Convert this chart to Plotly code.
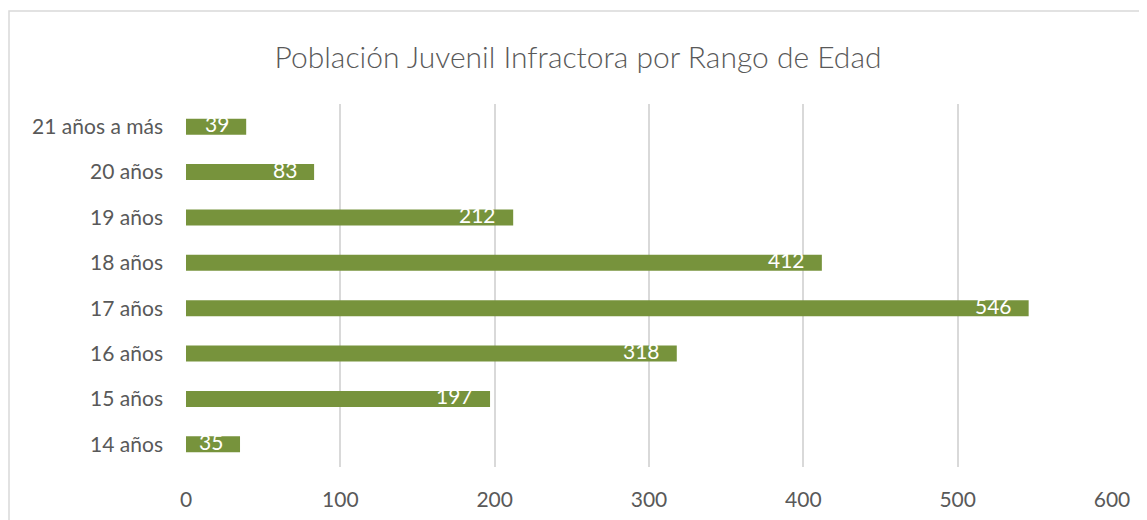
import plotly.graph_objects as go

categories = ["14 años", "15 años", "16 años", "17 años", "18 años", "19 años", "20 años", "21 años a más"]
values = [35, 197, 318, 546, 412, 212, 83, 39]
x_ticks = [0, 100, 200, 300, 400, 500, 600]

W, H = 1147, 520
OFF = 8  # page body margin
L, R, T, B = 186 - OFF, 43, 104 - OFF, 61
pw, ph = W - L - R, H - T - B

def px_to_paper_x(px):
    return (px - OFF - L) / pw

def px_to_paper_y(py):
    return (H - B - (py - OFF)) / ph

fig = go.Figure(go.Bar(
    x=values, y=categories, orientation="h",
    marker=dict(color="#77933C", line=dict(width=0)),
    width=0.35,
    hoverinfo="x+y",
))

annotations = [
    dict(x=v, y=c, xref="x", yref="y", text=str(v), showarrow=False,
         xanchor="right", yanchor="middle", xshift=-15, yshift=3,
         font=dict(color="white", size=21, family="Lato"))
    for c, v in zip(categories, values)
]

fig.update_layout(
    width=W, height=H,
    margin=dict(l=L, r=R, t=T, b=B, autoexpand=False),
    paper_bgcolor="white", plot_bgcolor="white",
    title=dict(text="Población Juvenil Infractora por Rango de Edad",
               x=(578 - OFF) / W, xanchor="center", xref="container",
               y=1 - (57 - OFF) / H, yanchor="middle", yref="container",
               font=dict(family="Lato", size=30, color="#595959", weight=300)),
    font=dict(family="Lato", size=21, color="#595959"),
    showlegend=False,
    annotations=annotations,
    xaxis=dict(range=[0, 600], tickvals=x_ticks, showgrid=True, gridcolor="#d9d9d9", gridwidth=1.5,
               zeroline=False, showline=False, ticks="", ticklabelstandoff=18,
               tickfont=dict(size=21, color="#595959")),
    yaxis=dict(categoryorder="array", categoryarray=categories, showgrid=False, zeroline=False,
               showline=False, ticks="", ticklabelstandoff=22,
               tickfont=dict(size=21, color="#595959")),
    shapes=[dict(type="rect", xref="paper", yref="paper",
                 x0=px_to_paper_x(9), x1=px_to_paper_x(1170),
                 y0=px_to_paper_y(560), y1=px_to_paper_y(11),
                 line=dict(color="#d9d9d9", width=1.5), fillcolor="rgba(0,0,0,0)", layer="below")],
)

fig.write_html("out.html")
